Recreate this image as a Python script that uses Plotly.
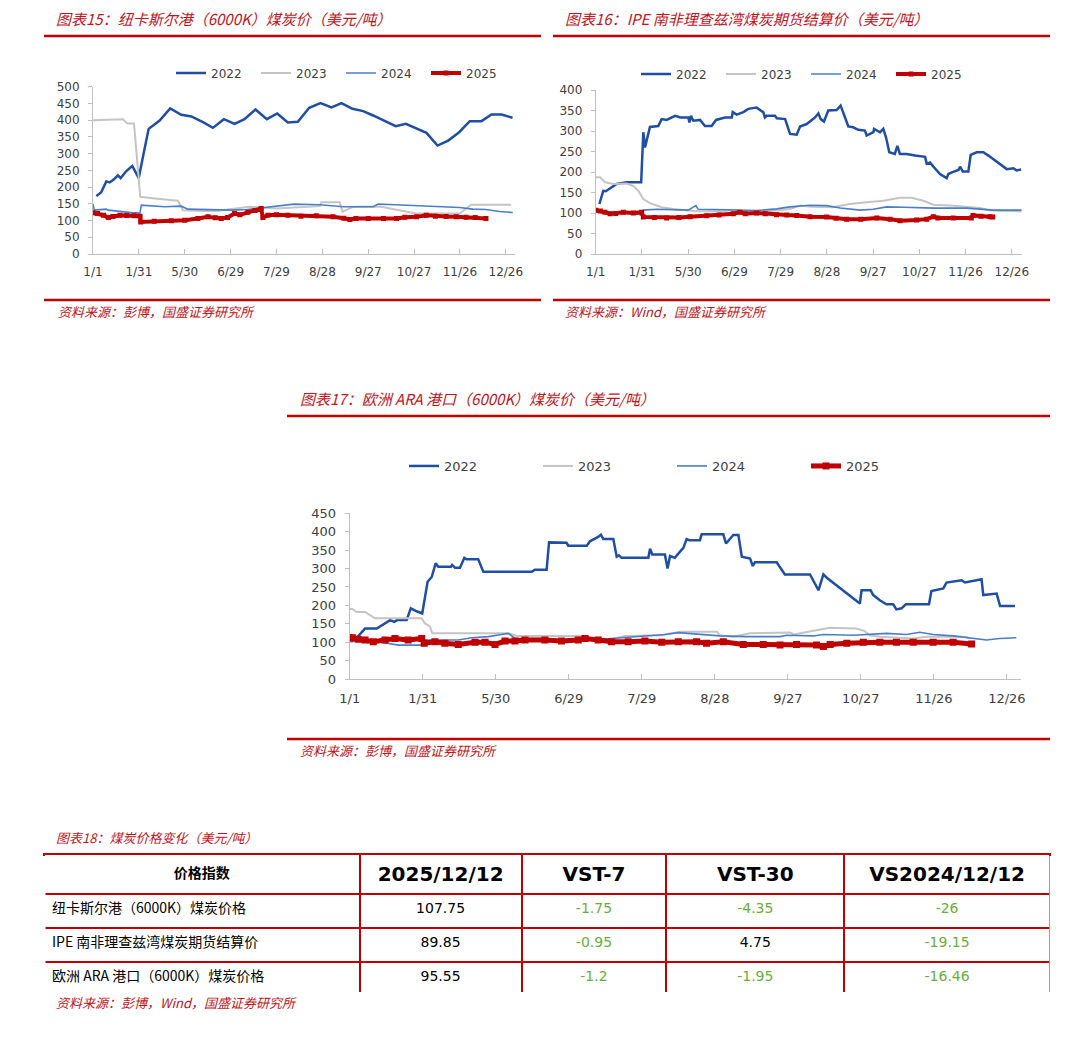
import plotly.graph_objects as go

PAGE_W, PAGE_H = 1080, 1039
OFF = 8  # browser body margin
W, H = PAGE_W - OFF, PAGE_H - OFF

# ---------------- data ----------------
tick_pos = [0, 30, 60, 90, 120, 150, 180, 210, 240, 270]
tick_labels = ["1/1", "1/31", "5/30", "6/29", "7/29", "8/28", "9/27", "10/27", "11/26", "12/26"]
years = ["2022", "2023", "2024", "2025"]

# 纽卡斯尔港 (Newcastle)
nc_x_2022 = [2.2, 5.4, 8.7, 10.9, 13.7, 16.3, 18.1, 21.8, 25.7, 27.9, 29.9, 33.3, 36.4, 43.6, 50.5, 57.7, 64.3, 71.9, 78.4, 85.6, 92.6, 99.1, 106.3, 113.7, 120.5, 127.4, 134, 141.4, 148.8, 156, 162.5, 169.7, 176.7, 183.2, 190.9, 198, 204.6, 211.6, 218.1, 225.3, 232.3, 239.5, 246.4, 254.1, 260.6, 267.2, 274.4]
nc_y_2022 = [173, 185, 217, 214, 223, 235, 227, 248, 263, 243, 227, 305, 374, 399, 435, 416, 411, 394, 377, 403, 389, 403, 432, 403, 420, 393, 395, 437, 451, 438, 451, 434, 427, 414, 397, 382, 389, 376, 362, 324, 339, 364, 397, 397, 417, 417, 407]
nc_x_2023 = [0, 9.8, 19.6, 22.4, 26.8, 28.5, 30.9, 40.3, 55.6, 58.8, 79.5, 88, 96.9, 102.6, 120, 137, 148.3, 149.4, 161.4, 163.1, 170.1, 187.5, 211.4, 239.7, 247.3, 273.5]
nc_y_2023 = [400, 401, 403, 390, 390, 300, 171, 166, 159, 131, 128, 133, 139, 141, 136, 141, 143, 155, 155, 126, 141, 142, 121, 121, 147, 147]
nc_x_2024 = [0, 0.8, 8.7, 10, 26.3, 29.4, 30.5, 31.6, 46.8, 57.7, 62, 90.4, 101, 111, 119.6, 131.4, 148.3, 163.7, 183.2, 186.5, 198, 222.5, 239.7, 248.4, 257, 265.8, 274.5]
nc_y_2024 = [150, 131, 134, 131, 123, 123, 118, 146, 141, 143, 134, 131, 133, 138, 143, 149, 147, 141, 141, 149, 147, 141, 139, 134, 133, 127, 124]
nc_x_2025 = [0, 3, 6.9, 10, 13, 17.6, 22, 27, 30.8, 31.2, 40, 51.2, 60, 68.6, 75.2, 80, 83.9, 88, 92.6, 96, 101.3, 106, 110, 111.1, 114.4, 120, 127.4, 136, 146, 157, 164, 168, 172, 180, 190, 198.5, 204, 211.6, 218, 224, 231, 237.6, 244, 250, 257]
nc_y_2025 = [123, 121, 116, 109, 112, 116, 115, 114, 113, 96, 98, 99, 101, 106, 111, 108, 106, 109, 121, 117, 125, 130, 136, 109, 116, 117, 116, 113, 114, 111, 107, 103, 106, 106, 106, 106, 110, 111, 116, 113, 112, 111, 110, 109, 106]

# IPE 南非理查兹湾 (Richards Bay)
rb_x_2022 = [2.4, 4.9, 6.5, 10.4, 13.6, 20.1, 29.5, 30.9, 32, 35.2, 40.6, 42.8, 46, 51.5, 55, 60.1, 60.8, 61.8, 63.3, 67.7, 70.9, 75.2, 78.1, 83.9, 88.3, 88.9, 91.5, 95.8, 99, 104.4, 108.7, 109.8, 110.9, 116.3, 117.5, 122.9, 126.1, 130.4, 132.6, 136.9, 142.3, 144.5, 146, 148.1, 150.9, 156.3, 158.9, 161.8, 163.9, 167, 170.4, 174.7, 175.8, 180.2, 180.6, 184.5, 186.6, 188.4, 190.5, 194.1, 195.7, 197.4, 201.7, 207.2, 213.7, 214.8, 216.9, 219.1, 223.4, 227.7, 228.8, 231.1, 235.4, 236.4, 238.2, 241.8, 243.3, 247.2, 251.5, 254.8, 257.6, 260.2, 263.4, 266.7, 271, 273, 276]
rb_y_2022 = [122, 154, 153, 163, 171, 175, 175, 297, 260, 310, 312, 329, 327, 337, 333, 333, 321, 337, 325, 327, 312, 312, 327, 333, 333, 346, 340, 346, 354, 357, 346, 333, 337, 337, 331, 329, 293, 291, 311, 317, 333, 343, 329, 323, 350, 351, 362, 333, 311, 309, 303, 301, 289, 297, 305, 297, 305, 284, 248, 244, 264, 244, 244, 240, 237, 220, 223, 213, 195, 185, 195, 199, 205, 213, 201, 201, 242, 248, 248, 240, 232, 224, 217, 207, 209, 204, 206]
rb_x_2023 = [0, 2.8, 6, 11.4, 20.1, 24.4, 27.7, 30.9, 35.2, 42.8, 50.4, 59, 65, 77, 90, 104.4, 117, 126, 132.6, 140, 154, 164.8, 175.8, 186.6, 197.4, 205, 212.6, 219.1, 230, 240.7, 249.4, 255.9, 276.4]
rb_y_2023 = [187, 187, 175, 171, 172, 166, 154, 134, 124, 114, 110, 106, 104, 104, 106, 101, 106, 110, 118, 115, 114, 122, 126, 130, 137, 137, 130, 120, 118, 115, 112, 106, 104]
rb_x_2024 = [0, 15, 28, 29.8, 30.9, 39.5, 60, 65, 66.5, 86, 104.4, 117.3, 126, 139.1, 149.8, 158.6, 171.5, 180.1, 188.8, 200, 219.1, 240.7, 258, 276.4]
rb_y_2024 = [103, 100, 97, 94, 107, 109, 107, 118, 109, 108, 106, 110, 115, 119, 118, 112, 107, 109, 115, 114, 112, 112, 107, 107]
rb_x_2025 = [0, 3, 6, 9.3, 13, 18, 24.4, 29.8, 30.9, 38, 46, 54, 61.2, 72, 80, 89.3, 93.6, 97, 104.4, 110, 117.3, 124, 130.4, 139.1, 149.8, 156, 162.8, 172, 182.4, 191, 197.4, 208.2, 214.8, 219.1, 222, 232, 243.7, 244.8, 250, 255.9, 257.6]
rb_y_2025 = [107, 105, 102, 98, 99, 102, 100, 102, 90, 89, 88, 89, 91, 93, 95, 98, 102, 98, 100, 98, 96, 95, 94, 91, 90, 87, 85, 85, 88, 85, 81, 83, 85, 91, 88, 88, 88, 94, 92, 91, 90]

# 欧洲 ARA 港口
ara_x_2022 = [2.9, 6.3, 11.1, 13.1, 16.6, 18.3, 19.5, 23.4, 25.1, 27.5, 29.8, 32, 33.7, 35.3, 36.4, 41.6, 42.1, 43.3, 45.3, 47.1, 48, 52.8, 54.9, 74.8, 76.1, 80.9, 81.9, 89.1, 89.8, 97.4, 98.7, 102.1, 103.2, 104.2, 108.3, 109.7, 110.6, 111.7, 122.7, 123.4, 124.3, 129.5, 130.6, 131.6, 133.6, 135.7, 137.1, 138.4, 139.5, 143.9, 144.6, 153.5, 154.6, 157.6, 159.7, 161.1, 164.5, 165.6, 166.5, 175.4, 178.8, 189.1, 192.6, 194.6, 196, 209.6, 210.3, 214, 215.1, 217.8, 220.5, 223.3, 224.6, 226.7, 228.5, 238, 239, 243.9, 245.2, 251.4, 252.8, 259.6, 260.3, 265.8, 267.2, 273.3]
ara_y_2022 = [112, 137, 137, 145, 160, 155, 160, 160, 192, 184, 178, 264, 277, 314, 305, 305, 310, 302, 302, 329, 325, 325, 291, 291, 297, 297, 371, 370, 362, 362, 374, 386, 392, 380, 380, 332, 336, 329, 329, 354, 338, 338, 300, 334, 329, 346, 356, 380, 377, 377, 393, 393, 368, 391, 391, 332, 327, 307, 317, 317, 284, 284, 241, 284, 275, 205, 241, 241, 228, 214, 203, 203, 189, 192, 203, 203, 239, 246, 262, 268, 262, 271, 228, 232, 198, 198]
ara_x_2023 = [0, 1.1, 2.9, 6.3, 10.4, 29.6, 30.9, 33, 33.9, 65.2, 68.6, 90, 97, 99, 108, 113, 128, 135.7, 151, 152, 157.6, 164.5, 176.8, 180.9, 182.5, 193.1, 197.2, 208.2, 211.6, 213.6, 217.8, 231.5, 237, 252.8, 254.8]
ara_y_2023 = [190, 190, 182, 182, 165, 165, 151, 142, 124, 124, 117, 117, 117, 108, 108, 117, 119, 128, 128, 119, 115, 124, 124, 126, 121, 133, 139, 137, 130, 119, 115, 110, 115, 115, 110]
ara_x_2024 = [0, 1.1, 6.3, 11.8, 20, 29.6, 30.9, 44.6, 50.1, 56.9, 62.4, 65.2, 67.9, 80.2, 93.9, 96.7, 107.6, 118.5, 129.5, 135, 143, 152.1, 163.1, 176.8, 179.5, 190.5, 194.6, 206.9, 220.5, 228.7, 234.2, 239.7, 247.9, 253.4, 261.6, 267, 273.9]
ara_y_2024 = [101, 101, 110, 101, 92, 92, 106, 106, 112, 115, 121, 124, 110, 110, 101, 106, 110, 115, 121, 126, 121, 117, 115, 115, 119, 117, 121, 119, 124, 121, 127, 121, 117, 112, 106, 110, 112]
ara_x_2025 = [0, 1.1, 3.5, 6.3, 9.7, 14.5, 18.6, 24, 29.6, 30.6, 35, 39.1, 44.6, 51.5, 55.6, 59.7, 63.8, 67.9, 72, 80.2, 87, 93.9, 96.7, 102.1, 107.6, 114.4, 121.3, 128.2, 135, 142.5, 146.6, 153.5, 161.7, 169.9, 176.8, 183.6, 191.8, 194.6, 197.4, 204.2, 211, 217.8, 224.6, 231.5, 239.7, 247.9, 255.5]
ara_y_2025 = [112, 112, 108, 106, 101, 106, 110, 106, 110, 97, 101, 97, 94, 100, 100, 94, 103, 103, 106, 106, 103, 106, 110, 106, 101, 101, 103, 100, 101, 101, 97, 101, 94, 94, 92, 94, 92, 88, 94, 97, 100, 100, 100, 100, 100, 100, 95]

# table
tbl_header = ["价格指数", "2025/12/12", "VST-7", "VST-30", "VS2024/12/12"]
tbl_names = ["纽卡斯尔港（6000K）煤炭价格", "IPE 南非理查兹湾煤炭期货结算价", "欧洲 ARA 港口（6000K）煤炭价格"]
tbl_latest = ["107.75", "89.85", "95.55"]
tbl_vst7 = ["-1.75", "-0.95", "-1.2"]
tbl_vst30 = ["-4.35", "4.75", "-1.95"]
tbl_vs2024 = ["-26", "-19.15", "-16.46"]

# ---------------- style ----------------
RED = "#C00000"
TITLE_RED = "#C0141E"
GREEN = "#6AAD3D"
AX = "#BFBFBF"
TXT = "#404040"
CJK = "Noto Sans CJK SC"
LAT = "DejaVu Sans"

def style(yr, big=False):
    if yr == "2022":
        return dict(mode="lines", line=dict(color="#1F4EA3", width=2.5))
    if yr == "2023":
        return dict(mode="lines", line=dict(color="#C4C4C4", width=2))
    if yr == "2024":
        return dict(mode="lines", line=dict(color="#4A7EC8", width=1.6))
    return dict(mode="lines+markers", line=dict(color=RED, width=5 if big else 4),
                marker=dict(symbol="square", size=7 if big else 5, color=RED))

def px(x):
    return (x - OFF) / W

def py(y):
    return 1 - (y - OFF) / H

fig = go.Figure()

charts = [
    dict(ax="", legend="legend", big=False,
         xs=[nc_x_2022, nc_x_2023, nc_x_2024, nc_x_2025],
         ys=[nc_y_2022, nc_y_2023, nc_y_2024, nc_y_2025]),
    dict(ax="2", legend="legend2", big=False,
         xs=[rb_x_2022, rb_x_2023, rb_x_2024, rb_x_2025],
         ys=[rb_y_2022, rb_y_2023, rb_y_2024, rb_y_2025]),
    dict(ax="3", legend="legend3", big=True,
         xs=[ara_x_2022, ara_x_2023, ara_x_2024, ara_x_2025],
         ys=[ara_y_2022, ara_y_2023, ara_y_2024, ara_y_2025]),
]
for c in charts:
    for yr, xv, yv in zip(years, c["xs"], c["ys"]):
        fig.add_trace(go.Scatter(x=xv, y=yv, name=yr, xaxis="x" + c["ax"], yaxis="y" + c["ax"],
                                 legend=c["legend"], hoverinfo="skip", **style(yr, c["big"])))

def xaxis(dom, yname, rng, fs):
    return dict(domain=dom, anchor=yname, range=rng, tickmode="array", tickvals=tick_pos,
                ticktext=tick_labels, ticks="inside", ticklen=5, tickcolor=AX, showline=True,
                linecolor=AX, linewidth=1, showgrid=False, zeroline=False, automargin=False,
                ticklabelstandoff=7,
                tickfont=dict(family=LAT, size=fs, color=TXT), fixedrange=True)

def yaxis(dom, xname, rng, dt, fs):
    return dict(domain=dom, anchor=xname, range=rng, dtick=dt, ticks="outside", ticklen=4,
                tickcolor=AX, showline=True, linecolor=AX, linewidth=1, showgrid=False,
                zeroline=False, ticklabelstandoff=6, automargin=False,
                tickfont=dict(family=LAT, size=fs, color=TXT), fixedrange=True)

def legend(x, y, fs, ew):
    return dict(orientation="h", x=px(x), y=py(y), xanchor="left", yanchor="middle",
                font=dict(family=LAT, size=fs, color=TXT), bgcolor="rgba(0,0,0,0)",
                entrywidth=ew, entrywidthmode="pixels", itemclick=False, itemdoubleclick=False)

# table
neg = lambda s: GREEN if s.startswith("-") else "#000000"
fig.add_trace(go.Table(
    domain=dict(x=[px(44), px(1051)], y=[py(992), py(854)]),
    columnwidth=[316, 162, 145, 178, 206],
    header=dict(values=["<b>%s</b>" % h for h in tbl_header],
                align="center", height=34, fill_color="white",
                line=dict(color=RED, width=2),
                font=dict(family=[CJK, LAT, LAT, LAT, LAT], size=[14, 20, 20, 20, 20], color="#000000")),
    cells=dict(values=[tbl_names, tbl_latest, tbl_vst7, tbl_vst30, tbl_vs2024],
               align=["left", "center", "center", "center", "center"], height=34,
               fill_color="white", line=dict(color=RED, width=2),
               font=dict(family=[CJK, LAT, LAT, LAT, LAT], size=14,
                         color=[["#000000"] * 3, ["#000000"] * 3,
                                [neg(v) for v in tbl_vst7],
                                [neg(v) for v in tbl_vst30],
                                [neg(v) for v in tbl_vs2024]])),
))

# rules
shapes = []
for (x0, x1, y) in [(44, 541, 36), (44, 541, 300), (553, 1050, 36), (553, 1050, 300),
                    (287, 1050, 416), (287, 1050, 739)]:
    shapes.append(dict(type="line", xref="paper", yref="paper", x0=px(x0), x1=px(x1),
                       y0=py(y), y1=py(y), line=dict(color=RED, width=2.5)))
# hide the table's outer left/right borders (reference has open sides)
for xe in (44, 1051):
    shapes.append(dict(type="line", xref="paper", yref="paper", x0=px(xe), x1=px(xe),
                       y0=py(994), y1=py(856), layer="above",
                       line=dict(color="white", width=3)))

ann = []
def text(x, y, s, size=15, color=TITLE_RED):
    ann.append(dict(text=s, x=px(x), y=py(y), xref="paper", yref="paper", xanchor="left",
                    yanchor="middle", showarrow=False,
                    font=dict(family=CJK, size=size, color=color, style="italic")))

text(54, 18, "图表15：纽卡斯尔港（6000K）煤炭价（美元/吨）")
text(563, 18, "图表16：IPE 南非理查兹湾煤炭期货结算价（美元/吨）")
text(298, 398, "图表17：欧洲 ARA 港口（6000K）煤炭价（美元/吨）")
text(54, 837, "图表18：煤炭价格变化（美元/吨）", size=13)
text(56, 312, "资料来源：彭博，国盛证券研究所", size=13)
text(563, 312, "资料来源：Wind，国盛证券研究所", size=13)
text(298, 750, "资料来源：彭博，国盛证券研究所", size=13)
text(54, 1002, "资料来源：彭博，Wind，国盛证券研究所", size=13)

fig.update_layout(
    width=W, height=H, margin=dict(l=0, r=0, t=0, b=0, pad=0, autoexpand=False),
    paper_bgcolor="white", plot_bgcolor="white", showlegend=True,
    xaxis=xaxis([px(93), px(515)], "y", [0, 276], 12),
    yaxis=yaxis([py(254), py(86.7)], "x", [0, 500], 50, 12),
    xaxis2=xaxis([px(595.7), px(1021.7)], "y2", [0, 276.4], 12),
    yaxis2=yaxis([py(254), py(90)], "x2", [0, 400], 50, 12),
    xaxis3=xaxis([px(349.7), px(1021)], "y3", [0, 275.8], 13),
    yaxis3=yaxis([py(679), py(513.3)], "x3", [0, 450], 50, 13),
    legend=legend(171, 73, 12, 40),
    legend2=legend(636, 74, 12, 40),
    legend3=legend(404, 466, 13, 89),
    shapes=shapes, annotations=ann,
)

fig.write_html("out.html")
